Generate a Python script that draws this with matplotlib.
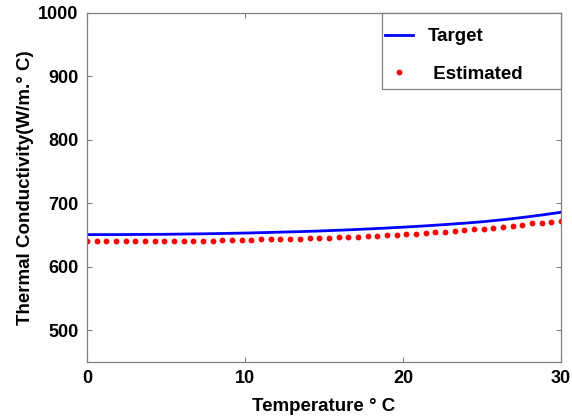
import numpy as np
import matplotlib
matplotlib.use("Agg")
import matplotlib.pyplot as plt
from matplotlib.patches import Rectangle

# ---- data ----
temperature = np.linspace(0, 30, 50)
target = [650.5, 650.5, 650.5, 650.5, 650.6, 650.7, 650.8, 650.9, 651.0,
          651.2, 651.4, 651.6, 651.8, 652.0,
          652.3, 652.6, 652.9, 653.2, 653.6, 654.0,
          654.4, 654.8, 655.2, 655.7, 656.2,
          656.8, 657.4, 658.0, 658.7, 659.4,
          660.1, 660.9, 661.7, 662.5, 663.4, 664.3,
          665.3, 666.3, 667.4, 668.5, 669.7, 670.9,
          672.5, 674.0, 675.7, 677.5, 679.4, 681.4, 683.5, 685.7]
estimated = [640.0, 640.0, 640.0, 640.0, 640.0, 640.0, 640.0,
             641.0, 641.0, 641.0, 641.0, 641.0, 641.0, 641.0,
             641.5, 642.0, 642.0, 642.5,
             643.0, 643.0, 643.5, 644.0, 644.0, 644.5,
             645.0, 645.5, 646.0, 647.0, 647.5, 648.0,
             648.7, 649.5, 650.3, 651.2, 652.2, 653.3,
             654.3, 655.3, 656.4, 658.0, 659.0, 660.0, 661.6,
             663.2, 664.8, 666.4, 668.0, 669.5, 671.0, 672.7]
xticks = [0, 10, 20, 30]
yticks = [500, 600, 700, 800, 900, 1000]
series_labels = ["Target", " Estimated"]

plt.rcParams['font.family'] = ['Liberation Sans', 'DejaVu Sans']
plt.rcParams['font.weight'] = 'bold'

fig = plt.figure(figsize=(5.72, 4.16), dpi=100)
ax = fig.add_axes([0.152, 0.1298, 0.829, 0.840])

ax.plot(temperature, target, color='#0000ff', lw=2.0, label=series_labels[0])
ax.plot(temperature, estimated, linestyle='none', marker='o', ms=4.2,
        mfc='#ff0000', mec='none', color='#ff0000', label=series_labels[1])

ax.set_xlim(0, 30)
ax.set_ylim(450, 1000)
ax.set_xticks(xticks)
ax.set_yticks(yticks)

spine_col = '#808080'
for s in ax.spines.values():
    s.set_color(spine_col)
    s.set_linewidth(0.9)
ax.tick_params(direction='in', length=3.5, width=0.8, color=spine_col,
               top=True, right=True, labelsize=13, pad=6)
for lab in ax.get_xticklabels() + ax.get_yticklabels():
    lab.set_fontweight('bold')

ax.set_xlabel('Temperature ° C', fontsize=13.5, fontweight='bold', labelpad=8)
ax.set_ylabel('Thermal Conductivity(W/m.° C)', fontsize=13.5, fontweight='bold', labelpad=3)

# legend box (MATLAB-style wide frame)
ax.add_patch(Rectangle((0.6223, 0.781), 0.3777, 0.219, transform=ax.transAxes,
                       facecolor='white', edgecolor=spine_col, lw=0.9,
                       clip_on=False, zorder=4))
leg = ax.legend(loc='upper left', bbox_to_anchor=(0.6286, 0.956),
                borderaxespad=0, borderpad=0, frameon=False,
                prop={'size': 13.5, 'weight': 'bold'}, handlelength=1.5,
                handletextpad=0.8, labelspacing=1.1, markerscale=1.0)
leg.set_zorder(5)

fig.savefig('out.png', dpi=100)
